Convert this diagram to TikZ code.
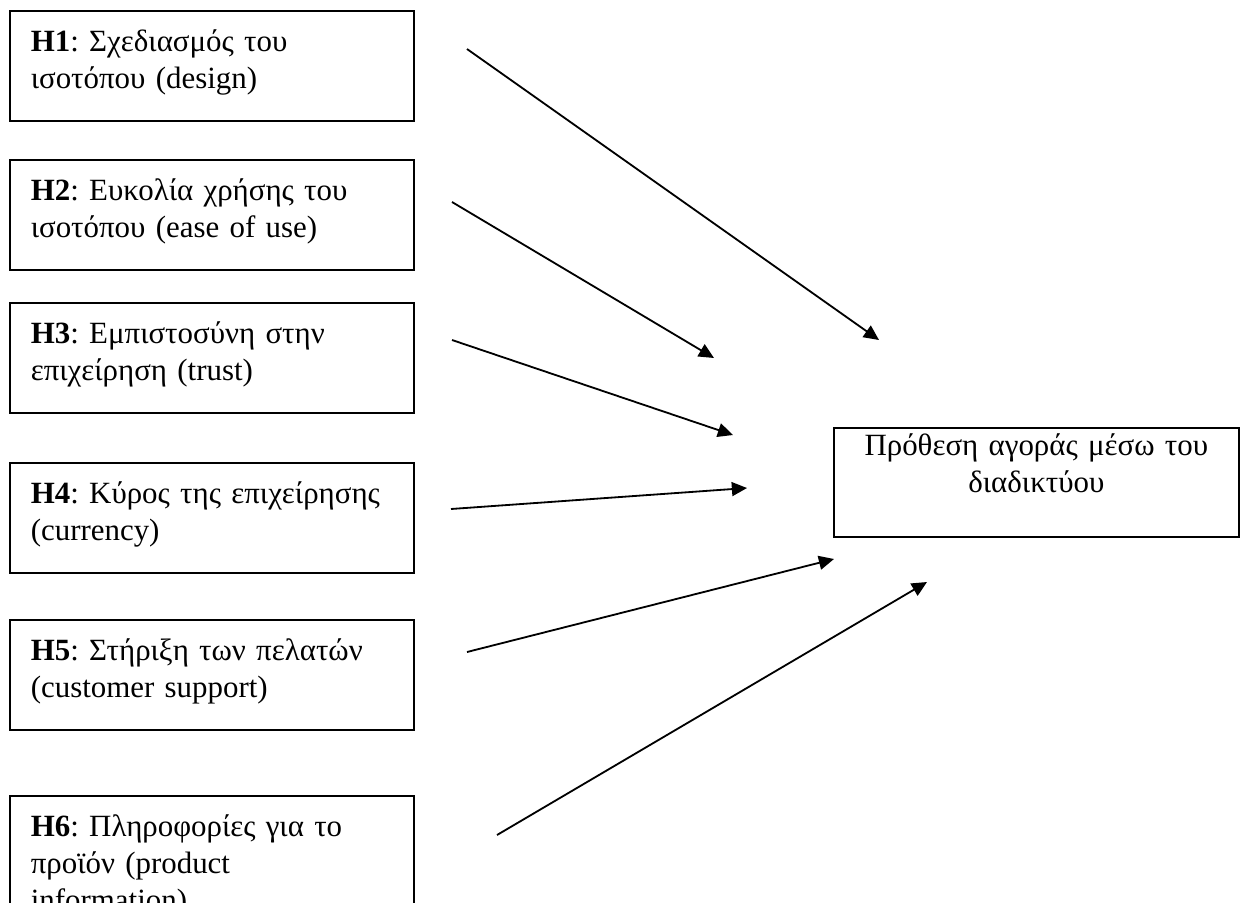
\documentclass[tikz,border=0pt]{standalone}
\usepackage{fontspec}
\setmainfont{Liberation Serif}
\frenchspacing
\usetikzlibrary{arrows.meta}
\tikzset{
  hyp/.style={draw, line width=0.6pt, anchor=north west, align=left,
    text width=119.5pt, inner xsep=6.9pt, inner ysep=0pt,
    text height=13.5pt, text depth=22.8pt,
    font=\fontsize{10.2pt}{12.2pt}\selectfont},
  goal/.style={draw, line width=0.6pt, anchor=north west, align=center,
    text width=127pt, inner xsep=3.3pt, inner ysep=0pt,
    text height=9.2pt, text depth=26.8pt,
    font=\fontsize{10.2pt}{12.2pt}\selectfont},
  link/.style={line width=0.6pt, -{Triangle[length=5pt,width=4.6pt]}}
}
\begin{document}
\begin{tikzpicture}[x=0.33pt,y=-0.33pt]
\useasboundingbox (0,0) rectangle (1240,902);
\clip (0,0) rectangle (1240,902);
\node[hyp] (h1) at (9,10) {\textbf{H1}: Σχεδιασμός του\\ισοτόπου (design)};
\node[hyp] (h2) at (9,159) {\textbf{H2}: Ευκολία χρήσης του\\ισοτόπου (ease of use)};
\node[hyp] (h3) at (9,302) {\textbf{H3}: Εμπιστοσύνη στην\\επιχείρηση (trust)};
\node[hyp] (h4) at (9,462) {\textbf{H4}: Κύρος της επιχείρησης\\(currency)};
\node[hyp] (h5) at (9,619) {\textbf{H5}: Στήριξη των πελατών\\(customer support)};
\node[hyp, text depth=40pt] (h6) at (9,795)
  {\textbf{H6}: Πληροφορίες για το\\προϊόν (product\\information)};
\node[goal] (buy) at (833,427) {Πρόθεση αγοράς μέσω του\\διαδικτύου};
% arrow ends
\coordinate (s1) at (467,49);  \coordinate (t1) at (879,340);
\coordinate (s2) at (452,202); \coordinate (t2) at (714,358);
\coordinate (s3) at (452,340); \coordinate (t3) at (733,435);
\coordinate (s4) at (451,509); \coordinate (t4) at (747,488);
\coordinate (s5) at (467,652); \coordinate (t5) at (834,559);
\coordinate (s6) at (497,835); \coordinate (t6) at (927,582);
\foreach \i in {1,...,6}
  \draw[link] (s\i) -- (t\i);
\end{tikzpicture}
\end{document}
